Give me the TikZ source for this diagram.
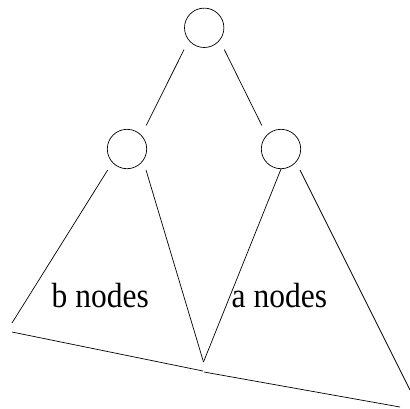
\documentclass[tikz,border=0pt]{standalone}
\usepackage{fontspec}
\setmainfont{Liberation Serif}
\newfontfamily\labelfont[FakeStretch=0.9]{Liberation Serif}
\begin{document}
\begin{tikzpicture}[x=1pt,y=-1pt,
  treenode/.style={draw,circle,minimum size=39.4pt,inner sep=0pt,line width=0.7pt},
  edge/.style={line width=0.7pt},
  label/.style={anchor=base west,inner sep=0pt,font=\labelfont\fontsize{35}{40}\selectfont}]
\useasboundingbox (0,0) rectangle (410,408);
% nodes
\node[treenode] (root) at (204.2,27.8) {};
\node[treenode] (L) at (127,149) {};
\node[treenode] (R) at (281,149) {};
% tree edges
\draw[edge,shorten <=10.2pt,shorten >=10.8pt] (root.219) -- (L.44);
\draw[edge,shorten <=10.2pt,shorten >=10.8pt] (root.-39) -- (R.136);
% triangle corners
\coordinate (bl) at (12,323);
\coordinate (blb) at (12,332);
\coordinate (tip) at (203.5,362);
\coordinate (bml) at (203,371);
\coordinate (bmr) at (204,372);
\coordinate (br) at (410,390);
\coordinate (brb) at (400,407);
% left subtree
\draw[edge] ([shift={(-19.3,21)}]L.center) -- (bl);
\draw[edge] ([shift={(19,21)}]L.center) -- (tip);
\draw[edge] (blb) -- (bml);
% right subtree
\draw[edge] (R.south) -- (tip);
\draw[edge] ([shift={(19,21)}]R.center) -- (br);
\draw[edge] (bmr) -- (brb);
% labels
\node[label] (bn) at (51.5,307) {b nodes};
\node[label] (an) at (231.5,307) {a nodes};
\end{tikzpicture}
\end{document}
